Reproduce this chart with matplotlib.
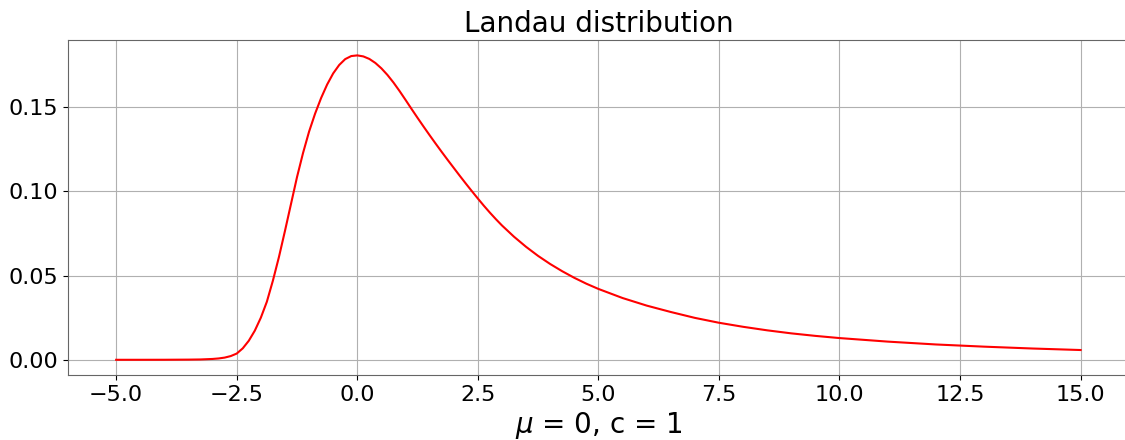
import numpy as np
import matplotlib.pyplot as plt

# Landau density, mu = 0, c = 1 (sampled more finely around the peak)
x_vals = [-5.0, -4.5, -4.0, -3.5, -3.25, -3.0, -2.875, -2.75, -2.625, -2.5,
          -2.375, -2.25, -2.125, -2.0, -1.875, -1.75, -1.625, -1.5, -1.375, -1.25,
          -1.125, -1.0, -0.875, -0.75, -0.625, -0.5, -0.375, -0.25, -0.125, 0.0,
          0.125, 0.25, 0.375, 0.5, 0.625, 0.75, 0.875, 1.0, 1.125, 1.25,
          1.375, 1.5, 1.625, 1.75, 1.875, 2.0, 2.125, 2.25, 2.375, 2.5,
          2.625, 2.75, 2.875, 3.0, 3.25, 3.5, 3.75, 4.0, 4.25, 4.5,
          4.75, 5.0, 5.5, 6.0, 6.5, 7.0, 7.5, 8.0, 8.5, 9.0,
          9.5, 10.0, 11.0, 12.0, 13.0, 14.0, 15.0]
pdf_vals = [0.0, 0.0, 0.00002, 0.0001, 0.0002, 0.0005, 0.0008, 0.0013, 0.0022, 0.0037,
            0.0068, 0.0113, 0.0173, 0.0250, 0.0345, 0.0470, 0.0610, 0.0765, 0.0925, 0.1085,
            0.1228, 0.1355, 0.1462, 0.1555, 0.1635, 0.1701, 0.1751, 0.1786, 0.1804, 0.1808,
            0.1802, 0.1787, 0.1763, 0.1731, 0.1692, 0.1647, 0.1597, 0.1544, 0.1490, 0.1437,
            0.1385, 0.1334, 0.1284, 0.1235, 0.1187, 0.1140, 0.1093, 0.1047, 0.1002, 0.0958,
            0.0915, 0.0874, 0.0835, 0.0798, 0.0731, 0.0671, 0.0617, 0.0569, 0.0526, 0.0487,
            0.0452, 0.0421, 0.0367, 0.0322, 0.0284, 0.0249, 0.0220, 0.0196, 0.0175, 0.0157,
            0.0142, 0.0129, 0.0108, 0.0091, 0.0078, 0.0067, 0.0058]

fig = plt.figure(figsize=(11.25, 4.4), dpi=100)
ax = fig.add_axes([0.0604, 0.1477, 0.943, 0.761])

ax.plot(np.array(x_vals), np.array(pdf_vals), color='red', linewidth=1.5)
ax.grid(True, color='#b0b0b0', linewidth=0.8)
ax.set_axisbelow(True)

ax.set_xticks(np.arange(-5, 15.1, 2.5))
ax.set_yticks([0.0, 0.05, 0.10, 0.15])
ax.tick_params(labelsize=16)
for s in ax.spines.values():
    s.set_color('#666666')

ax.set_title('Landau distribution', fontsize=20)
ax.set_xlabel(r'$\mu$ = 0, c = 1', fontsize=20)

fig.savefig('out.png', dpi=100)
